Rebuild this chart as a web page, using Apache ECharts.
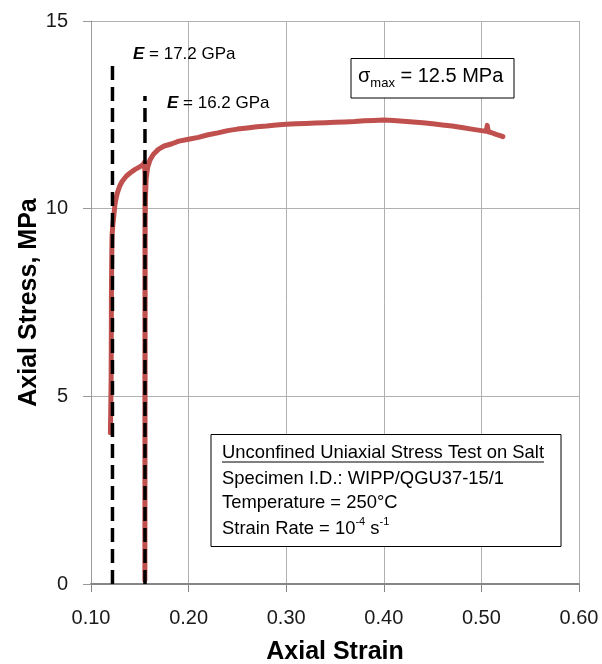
<!DOCTYPE html>
<html>
<head>
<meta charset="utf-8">
<script src="https://cdn.jsdelivr.net/npm/echarts@6/dist/echarts.min.js"></script>
<style>
html,body{margin:0;padding:0;background:#fff;}
#chart{width:602px;height:664px;}
</style>
</head>
<body>
<div id="chart"></div>
<script>
// ---- Data ----
const xTickLabels = ['0.10', '0.20', '0.30', '0.40', '0.50', '0.60'];
const yTickLabels = ['0', '5', '10', '15'];

// Stress-strain test curve [axial strain, axial stress (MPa)]
const curveLoading1 = [
  [0.1199, 4.03], [0.1203, 4.8], [0.1206, 5.4], [0.1208, 6.5], [0.1209, 7.5],
  [0.1210, 8.0], [0.1213, 8.8], [0.1216, 9.3], [0.1225, 9.6], [0.1233, 9.8],
  [0.1245, 10.1], [0.1255, 10.25], [0.1270, 10.42], [0.1294, 10.6], [0.1320, 10.73],
  [0.1363, 10.87], [0.1400, 10.95], [0.1448, 11.04], [0.1490, 11.1], [0.1533, 11.17],
  [0.1548, 11.24]
];
const curveUnloadReload = [
  [0.1553, 10.9], [0.1553, 10.0], [0.1552, 0.1],
  [0.1553, 0.1], [0.1554, 5.0], [0.1555, 9.5], [0.1558, 10.3], [0.1565, 10.8],
  [0.1580, 11.1], [0.1605, 11.3], [0.1640, 11.45], [0.1690, 11.58], [0.1750, 11.67],
  [0.1830, 11.73], [0.1900, 11.8], [0.2000, 11.85], [0.2100, 11.9], [0.2200, 11.97],
  [0.2300, 12.02], [0.2400, 12.08], [0.2500, 12.12], [0.2600, 12.15], [0.2700, 12.18],
  [0.2800, 12.2], [0.2900, 12.23], [0.3000, 12.25], [0.3100, 12.26], [0.3200, 12.27],
  [0.3300, 12.28], [0.3400, 12.29], [0.3500, 12.30], [0.3600, 12.31], [0.3700, 12.32],
  [0.3800, 12.34], [0.3900, 12.35], [0.4000, 12.36], [0.4100, 12.35], [0.4200, 12.33],
  [0.4300, 12.31], [0.4400, 12.29], [0.4500, 12.26], [0.4600, 12.23], [0.4700, 12.2],
  [0.4800, 12.16], [0.4900, 12.12], [0.5000, 12.08], [0.5050, 12.06], [0.5060, 12.22],
  [0.5070, 12.05], [0.5100, 12.03], [0.5150, 11.98], [0.5200, 11.94], [0.5220, 11.92]
];
const curveData = curveLoading1.concat(curveUnloadReload);

// Elastic modulus lines
const modulusLine1 = [[0.122, 0], [0.122, 13.83]];
const modulusLine2 = [[0.1553, 0], [0.1553, 13.0]];

// Annotation texts
const modulusLabel1 = '17.2 GPa';
const modulusLabel2 = '16.2 GPa';
const sigmaMaxValue = '12.5 MPa';
const infoLines = [
  'Unconfined Uniaxial Stress Test on Salt',
  'Specimen I.D.: WIPP/QGU37-15/1',
  'Temperature = 250°C'
];

const FONT = '"Liberation Sans", Arial, sans-serif';
const chart = echarts.init(document.getElementById('chart'), null, {renderer: 'canvas'});

const option = {
  backgroundColor: '#fff',
  animation: false,
  grid: {left: 91, right: 23, top: 21, bottom: 80, containLabel: false, outerBoundsMode: 'none'},
  xAxis: {
    type: 'value', min: 0.1, max: 0.6, interval: 0.1,
    name: 'Axial Strain', nameLocation: 'middle', nameGap: 56, nameMoveOverlap: false,
    nameTextStyle: {fontFamily: FONT, fontSize: 25, fontWeight: 'bold', color: '#000'},
    axisLine: {show: true, lineStyle: {color: '#868686', width: 2}},
    axisTick: {show: true, length: 8, lineStyle: {color: '#868686', width: 1}},
    axisLabel: {
      margin: 24, fontFamily: FONT, fontSize: 20, color: '#1a1a1a',
      formatter: (v) => xTickLabels[Math.round((v - 0.1) / 0.1)] || ''
    },
    splitLine: {show: true, lineStyle: {color: '#b0b0b0', width: 1}}
  },
  yAxis: {
    type: 'value', min: 0, max: 15, interval: 5,
    name: 'Axial Stress, MPa', nameLocation: 'middle', nameGap: 49, nameRotate: 90, nameMoveOverlap: false,
    nameTextStyle: {fontFamily: FONT, fontSize: 25, fontWeight: 'bold', color: '#000'},
    axisLine: {show: true, lineStyle: {color: '#9a9a9a', width: 1}},
    axisTick: {show: true, length: 8, lineStyle: {color: '#9a9a9a', width: 1}},
    axisLabel: {
      margin: 23, fontFamily: FONT, fontSize: 20, color: '#1a1a1a',
      formatter: (v) => yTickLabels[Math.round(v / 5)] || ''
    },
    splitLine: {show: true, lineStyle: {color: '#b0b0b0', width: 1}}
  },
  series: [
    {
      type: 'line', data: curveData, showSymbol: false, symbol: 'none',
      lineStyle: {color: '#C0504D', width: 5, join: 'round', cap: 'round'},
      z: 2
    },
    {
      type: 'line', data: modulusLine1, showSymbol: false, symbol: 'none',
      lineStyle: {color: '#000', width: 3.5, type: [14, 7]}, z: 3
    },
    {
      type: 'line', data: modulusLine2, showSymbol: false, symbol: 'none',
      lineStyle: {color: '#000', width: 3.5, type: [14, 7]}, z: 3
    }
  ],
  graphic: [
    {
      type: 'text', left: 133, top: 46, z: 10,
      style: {
        text: '{e|E}{t| = ' + modulusLabel1 + '}',
        rich: {
          e: {fontFamily: FONT, fontSize: 17, fontWeight: 'bold', fontStyle: 'italic', fill: '#000'},
          t: {fontFamily: FONT, fontSize: 17, fill: '#000'}
        }
      }
    },
    {
      type: 'text', left: 167, top: 95, z: 10,
      style: {
        text: '{e|E}{t| = ' + modulusLabel2 + '}',
        rich: {
          e: {fontFamily: FONT, fontSize: 17, fontWeight: 'bold', fontStyle: 'italic', fill: '#000'},
          t: {fontFamily: FONT, fontSize: 17, fill: '#000'}
        }
      }
    },
    {
      type: 'rect', z: 10,
      shape: {x: 351, y: 58.5, width: 163, height: 39.5},
      style: {fill: '#fff', stroke: '#000', lineWidth: 1}
    },
    {
      type: 'text', left: 358, top: 66, z: 11,
      style: {
        text: '{s|σ}{sub|max}{s| = ' + sigmaMaxValue + '}',
        rich: {
          s: {fontFamily: FONT, fontSize: 20, fill: '#000', lineHeight: 26, verticalAlign: 'bottom'},
          sub: {fontFamily: FONT, fontSize: 13, fill: '#000', lineHeight: 26, verticalAlign: 'bottom', padding: [0, 0, -4, 0]}
        }
      }
    },
    {
      type: 'rect', z: 10,
      shape: {x: 211, y: 434.5, width: 350, height: 112},
      style: {fill: '#fff', stroke: '#000', lineWidth: 1}
    },
    {
      type: 'text', x: 222, y: 453, z: 11,
      style: {text: infoLines[0], fontFamily: FONT, fontSize: 18.4, fill: '#000', verticalAlign: 'middle'}
    },
    {
      type: 'line', z: 11,
      shape: {x1: 222, y1: 462, x2: 544, y2: 462},
      style: {stroke: '#000', lineWidth: 1.2}
    },
    {
      type: 'text', x: 222, y: 478.5, z: 11,
      style: {text: infoLines[1], fontFamily: FONT, fontSize: 18.4, fill: '#000', verticalAlign: 'middle'}
    },
    {
      type: 'text', x: 222, y: 503, z: 11,
      style: {text: infoLines[2], fontFamily: FONT, fontSize: 18.4, fill: '#000', verticalAlign: 'middle'}
    },
    {
      type: 'text', x: 222, y: 527, z: 11,
      style: {
        text: '{n|Strain Rate = 10}{sup|-4}{n| s}{sup|-1}',
        verticalAlign: 'middle',
        rich: {
          n: {fontFamily: FONT, fontSize: 18.4, fill: '#000', lineHeight: 22, verticalAlign: 'bottom'},
          sup: {fontFamily: FONT, fontSize: 11, fill: '#000', lineHeight: 22, verticalAlign: 'top', padding: [0, 0, 8, 0]}
        }
      }
    }
  ]
};
chart.setOption(option);
</script>
</body>
</html>
